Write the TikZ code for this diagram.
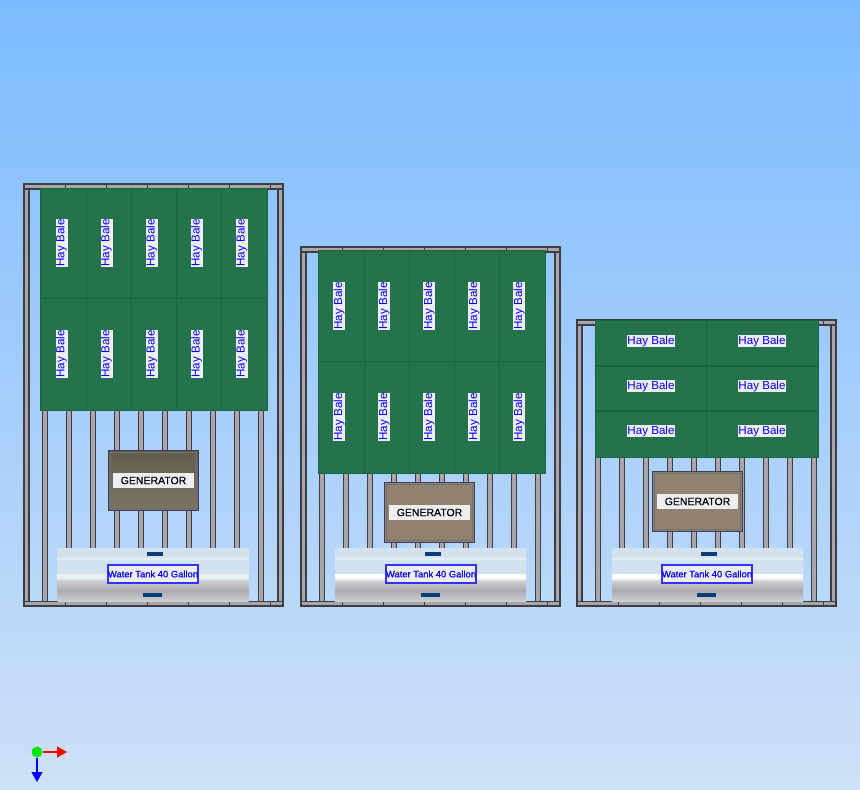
\documentclass[tikz,border=0pt]{standalone}
\usepackage{fontspec}
\setmainfont{Liberation Sans}
\usetikzlibrary{arrows.meta, positioning, calc}
\definecolor{skytop}{RGB}{124,187,255}
\definecolor{skybot}{RGB}{206,225,247}
\definecolor{baleGreen}{RGB}{36,115,76}
\definecolor{baleLine}{RGB}{24,102,64}
\definecolor{steel}{RGB}{166,166,172}
\definecolor{steelEdge}{RGB}{62,62,66}
\definecolor{labelWhite}{RGB}{238,238,242}
\definecolor{genDark}{RGB}{98,94,78}
\definecolor{genMid}{RGB}{126,116,100}
\definecolor{genBrown}{RGB}{145,129,111}
\definecolor{genEdge}{RGB}{62,62,82}
\definecolor{tankBlue}{RGB}{209,225,238}
\definecolor{tankPale}{RGB}{232,240,246}
\definecolor{tankGrey}{RGB}{168,170,174}
\definecolor{tankSoft}{RGB}{205,207,210}
\definecolor{slotBlue}{RGB}{8,62,120}
% the node covers 25bp to 75bp of these
\pgfdeclareverticalshading{tankshade}{100bp}{
    color(0bp)=(tankGrey); color(25bp)=(tankSoft); color(35bp)=(tankGrey);
    color(44bp)=(tankSoft); color(47bp)=(white); color(50.5bp)=(white);
    color(51bp)=(tankBlue); color(63bp)=(tankBlue);
    color(65bp)=(tankPale); color(67bp)=(tankBlue); color(100bp)=(tankBlue)}
\pgfdeclareverticalshading{tankshadesoft}{100bp}{
    color(0bp)=(tankGrey); color(25bp)=(tankSoft); color(35bp)=(tankGrey);
    color(44bp)=(tankSoft); color(47bp)=(tankPale); color(50.5bp)=(tankPale);
    color(51bp)=(tankBlue); color(63bp)=(tankBlue);
    color(65bp)=(tankPale); color(67bp)=(tankBlue); color(100bp)=(tankBlue)}
\tikzset{
    post/.style={draw=steelEdge, line width=1.2pt, fill=steel},
    rail/.style={draw=steelEdge, line width=1.5pt, fill=steel},
    bale/.style={draw=baleLine, line width=0.8pt, fill=baleGreen, inner sep=0pt, outer sep=0pt},
    balelabel/.style={fill=labelWhite, text=blue, font=\fontsize{11.6}{12}\selectfont, inner sep=0pt, minimum width=48pt, minimum height=12pt},
    genbox/.style={draw=genEdge, line width=1.5pt, inner sep=0pt, minimum width=90pt, minimum height=60pt},
    genlabel/.style={fill=labelWhite, font=\fontsize{10.5}{12}\selectfont\addfontfeature{FakeBold=0.3}, inner sep=0pt, minimum width=81pt, minimum height=15.5pt},
    tank/.style={draw=none, inner sep=0pt, minimum width=191pt, minimum height=53pt},
    tanklabel/.style={draw=blue!80!white, line width=1.2pt, fill=labelWhite, text=blue, font=\fontsize{9.4}{11}\selectfont\addfontfeature{FakeBold=0.5}, inner sep=0pt, minimum width=90pt, minimum height=18pt},
    slot/.style={fill=slotBlue, inner sep=0pt, minimum height=3.5pt}
}
% one rack: left edge, top edge
\newcommand{\rackframe}[2]{
    \foreach \n in {0,...,9}
        \draw [post] ({#1+18.5+24*\n},330) rectangle ({#1+23.5+24*\n},602);
    \draw [rail] (#1,#2) rectangle (#1+5,606);
    \draw [rail] (#1+254,#2) rectangle (#1+259,606);
    \draw [rail] (#1,#2) rectangle (#1+259,#2+5);
    \draw [rail] (#1,601.5) rectangle (#1+259,606);
    \foreach \n in {1,...,6}
        \draw [steelEdge, line width=0.8pt] ({#1+41*\n},#2) -- ++(0,5) ({#1+41*\n},601.5) -- ++(0,5);
}
\newcommand{\geninner}[1]{
    \draw [genEdge!75!white, line width=0.7pt] ($(#1.north west)+(3,3)$) rectangle ($(#1.south east)+(-3,-3)$);
}
\begin{document}
\begin{tikzpicture}[x=1pt, y=-1pt]
    \useasboundingbox (0,0) rectangle (860,790);
    \fill [top color=skytop, bottom color=skybot] (0,0) rectangle (860,790);

    % left rack
    \rackframe{24}{184}
    \draw [bale] (40,188) rectangle (267,410);
    \foreach \x in {86,131,176,221} \draw [baleLine] (\x,188) -- (\x,410);
    \draw [baleLine] (40,298) -- (267,298);
    \foreach \x in {61.5,106.5,151.5,196.5,241.5}
        \foreach \y in {243,354}
            \node [balelabel, rotate=90] at (\x,\y) {Hay Bale};
    \node [genbox, top color=genDark, bottom color=genMid] (genA) at (153.5,480.5) {};
    \geninner{genA}
    \node [genlabel] (genAtext) at (genA) {GENERATOR};
    \node [tank, shading=tankshadesoft] (tankA) at (153,574.5) {};
    \node [tanklabel] (tankAtext) at (153,574) {Water Tank 40 Gallon};
    \node [slot, minimum width=16pt] at (154.5,554) {};
    \node [slot, minimum width=19pt] at (152.5,595) {};

    % middle rack
    \rackframe{301}{247}
    \draw [bale] (318,250) rectangle (545,473);
    \foreach \x in {364,409,454,499} \draw [baleLine] (\x,250) -- (\x,473);
    \draw [baleLine] (318,361) -- (545,361);
    \foreach \x in {339,384,429,474,519}
        \foreach \y in {306,417}
            \node [balelabel, rotate=90] at (\x,\y) {Hay Bale};
    \node [genbox, fill=genBrown] (genB) at (429.5,512.5) {};
    \geninner{genB}
    \node [genlabel] (genBtext) at (genB) {GENERATOR};
    \node [tank, shading=tankshade] (tankB) at (430.5,574.5) {};
    \node [tanklabel] (tankBtext) at (431,574) {Water Tank 40 Gallon};
    \node [slot, minimum width=16pt] at (432.5,554) {};
    \node [slot, minimum width=19pt] at (430,595) {};

    % right rack
    \rackframe{577}{320}
    \draw [bale] (595,320) rectangle (818,457);
    \draw [baleLine] (706.5,320) -- (706.5,457);
    \draw [baleLine, line width=1.2pt] (595,366) -- (818,366) (595,411) -- (818,411);
    \foreach \x in {651,762}
        \foreach \y in {341,386,431}
            \node [balelabel] at (\x,\y) {Hay Bale};
    \node [genbox, fill=genBrown] (genC) at (697.5,501.5) {};
    \geninner{genC}
    \node [genlabel] (genCtext) at (genC) {GENERATOR};
    \node [tank, shading=tankshade] (tankC) at (707.5,574.5) {};
    \node [tanklabel] (tankCtext) at (707,574) {Water Tank 40 Gallon};
    \node [slot, minimum width=16pt] at (708.5,554) {};
    \node [slot, minimum width=19pt] at (706.5,595) {};

    % axes
    \node [circle, fill=green!90!black, inner sep=0pt, minimum size=11pt] (origin) at (37,752) {};
    \coordinate (xend) at (67,752);
    \coordinate (yend) at (37,782);
    \draw [red, line width=1.2pt, -{Triangle[length=10pt, width=11pt]}] (origin) -- (xend);
    \draw [blue, line width=1.2pt, -{Triangle[length=10pt, width=11pt]}] (origin) -- (yend);
\end{tikzpicture}
\end{document}
